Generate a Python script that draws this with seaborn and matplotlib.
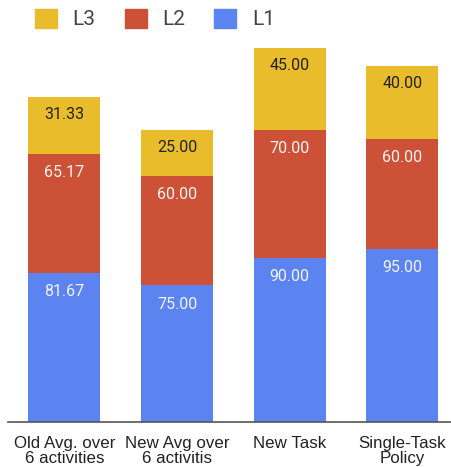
import seaborn as sns
import matplotlib.pyplot as plt
import pandas as pd
from matplotlib.patches import Patch

# Data
categories = ['Old Avg. over\n6 activities', 'New Avg over\n6 activitis', 'New Task', 'Single-Task\nPolicy']
l1 = [81.67, 75.00, 90.00, 95.00]
l2 = [65.17, 60.00, 70.00, 60.00]
l3 = [31.33, 25.00, 45.00, 40.00]

blue = '#5B84F0'
red = '#CC5136'
yellow = '#E8BC2A'

df = pd.DataFrame({'cat': categories, 'L1': l1, 'L2': l2, 'L3': l3})
df['c1'] = df['L1']
df['c2'] = df['L1'] + df['L2']
df['c3'] = df['c2'] + df['L3']

sns.set_style('white')
plt.rcParams['font.family'] = ['Roboto', 'DejaVu Sans']

fig = plt.figure(figsize=(4.52, 4.67), dpi=100)
ax = fig.add_axes([8 / 452, 45 / 467, 444 / 452, 382 / 467])

# stacked bars drawn as cumulative layers, tallest first
for col, c in [('c3', yellow), ('c2', red), ('c1', blue)]:
    sns.barplot(data=df, x='cat', y=col, color=c, width=0.64, saturation=1, linewidth=0, ax=ax)

# value labels near top of each segment
for i, row in df.iterrows():
    ax.annotate(f"{row['L3']:.2f}", (i, row['c3']), xytext=(0, -12.5), textcoords='offset points',
                ha='center', va='center', fontsize=11.5, color='#222222')
    ax.annotate(f"{row['L2']:.2f}", (i, row['c2']), xytext=(0, -13.5), textcoords='offset points',
                ha='center', va='center', fontsize=11.5, color='#F3F3F3')
    ax.annotate(f"{row['L1']:.2f}", (i, row['c1']), xytext=(0, -13.7), textcoords='offset points',
                ha='center', va='center', fontsize=11.5, color='#F3F3F3')

ax.set_xlim(-0.5, 3.44)
ax.set_ylim(0, 209.3)
ax.set_xlabel('')
ax.set_ylabel('')
ax.set_yticks([])
ax.tick_params(axis='x', length=0, pad=10)
for lab in ax.get_xticklabels():
    lab.set_family(['Liberation Sans', 'DejaVu Sans'])
    lab.set_fontsize(12.2)
    lab.set_color('#222222')
    lab.set_linespacing(1.05)
for s in ['top', 'right', 'left']:
    ax.spines[s].set_visible(False)
ax.spines['bottom'].set_color('#555555')
ax.spines['bottom'].set_linewidth(1.2)

handles = [Patch(color=yellow, label='L3'), Patch(color=red, label='L2'), Patch(color=blue, label='L1')]
fig.legend(handles=handles, loc='center left', bbox_to_anchor=(35 / 452, 1 - 19 / 467), ncol=3,
           frameon=False, borderpad=0, borderaxespad=0,
           fontsize=15, handlelength=1.05, handleheight=1.05, handletextpad=0.75, columnspacing=1.4,
           labelcolor='#444444')

plt.savefig('out.png', dpi=100)
